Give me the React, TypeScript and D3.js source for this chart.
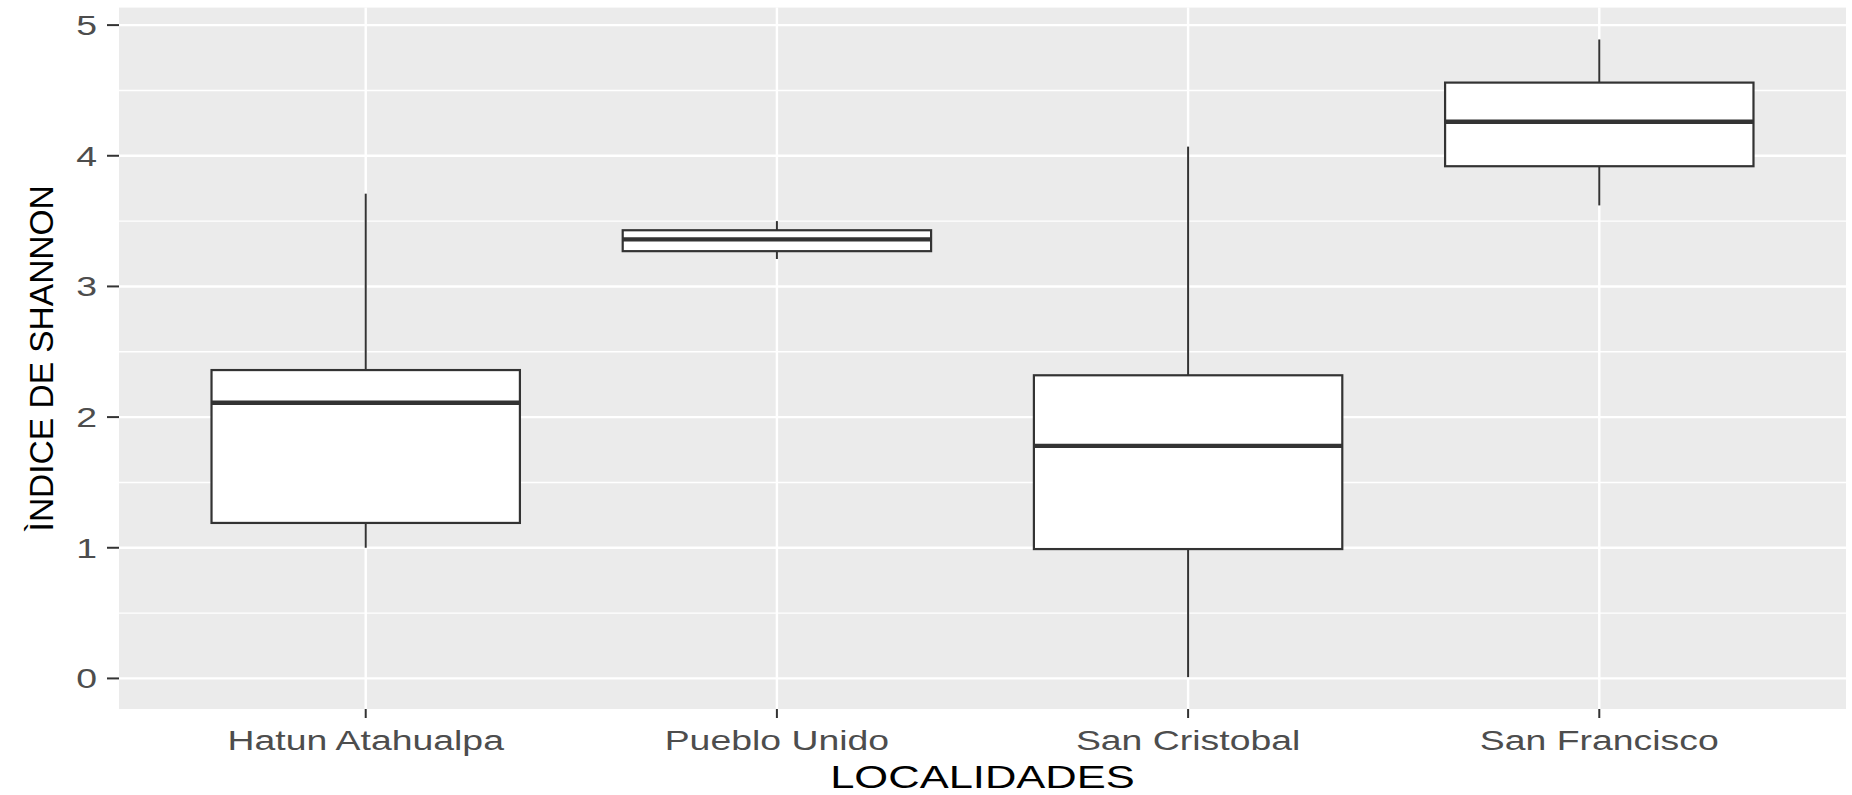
import React from "react";
import * as d3 from "d3";

// Shannon diversity index per locality: box-and-whisker summaries
const localidades = ["Hatun Atahualpa", "Pueblo Unido", "San Cristobal", "San Francisco"];
const whiskerLow = [1.0, 3.21, 0.01, 3.62];
const q1 = [1.19, 3.27, 0.99, 3.92];
const median = [2.11, 3.36, 1.78, 4.26];
const q3 = [2.36, 3.43, 2.32, 4.56];
const whiskerHigh = [3.71, 3.5, 4.07, 4.89];
const yTicks = [0, 1, 2, 3, 4, 5];
const yMinor = [0.5, 1.5, 2.5, 3.5, 4.5];

const W = 1852;
const H = 795;
const panel = { left: 119, right: 1846, top: 7.6, bottom: 709 };
const FONT = "'Liberation Sans', Arial, Helvetica, sans-serif";
const SX = 1.36; // horizontal glyph widening of the horizontal labels

export default function App() {
  const dataMin = d3.min(whiskerLow) as number;
  const dataMax = d3.max(whiskerHigh) as number;
  const pad = (dataMax - dataMin) * 0.05;

  const y = d3
    .scaleLinear()
    .domain([dataMin - pad, dataMax + pad])
    .range([panel.bottom, panel.top]);

  const x = d3
    .scalePoint<string>()
    .domain(localidades)
    .range([panel.left, panel.right])
    .padding(0.6);

  const boxW = x.step() * 0.75;
  const stroke = "#333333";

  return (
    <div style={{ position: "fixed", left: 0, top: 0, width: W, height: H, background: "#fff" }}>
      <svg width={W} height={H} style={{ display: "block" }} fontFamily={FONT}>
        {/* panel background */}
        <rect
          x={panel.left}
          y={panel.top}
          width={panel.right - panel.left}
          height={panel.bottom - panel.top}
          fill="#EBEBEB"
        />
        {/* minor gridlines */}
        {yMinor.map((v) => (
          <line
            key={"mn" + v}
            x1={panel.left}
            x2={panel.right}
            y1={y(v)}
            y2={y(v)}
            stroke="#fff"
            strokeWidth={1.4}
          />
        ))}
        {/* major gridlines */}
        {yTicks.map((v) => (
          <line
            key={"mj" + v}
            x1={panel.left}
            x2={panel.right}
            y1={y(v)}
            y2={y(v)}
            stroke="#fff"
            strokeWidth={2.4}
          />
        ))}
        {localidades.map((c) => (
          <line
            key={"vx" + c}
            x1={x(c)}
            x2={x(c)}
            y1={panel.top}
            y2={panel.bottom}
            stroke="#fff"
            strokeWidth={2.4}
          />
        ))}

        {/* boxes */}
        {localidades.map((c, i) => {
          const cx = x(c) as number;
          return (
            <g key={"box" + c}>
              <line x1={cx} x2={cx} y1={y(whiskerHigh[i])} y2={y(q3[i])} stroke={stroke} strokeWidth={2} />
              <line x1={cx} x2={cx} y1={y(q1[i])} y2={y(whiskerLow[i])} stroke={stroke} strokeWidth={2} />
              <rect
                x={cx - boxW / 2}
                y={y(q3[i])}
                width={boxW}
                height={y(q1[i]) - y(q3[i])}
                fill="#fff"
                stroke={stroke}
                strokeWidth={2.2}
              />
              <line
                x1={cx - boxW / 2}
                x2={cx + boxW / 2}
                y1={y(median[i])}
                y2={y(median[i])}
                stroke={stroke}
                strokeWidth={4.4}
              />
            </g>
          );
        })}

        {/* y axis ticks and labels */}
        {yTicks.map((v) => (
          <g key={"yt" + v}>
            <line x1={panel.left - 12} x2={panel.left} y1={y(v)} y2={y(v)} stroke={stroke} strokeWidth={2} />
            <g transform={`translate(97,${y(v)}) scale(${SX},1)`}>
              <text textAnchor="end" dy="0.36em" fontSize={27.5} fill="#4D4D4D">
                {v}
              </text>
            </g>
          </g>
        ))}

        {/* x axis ticks and labels */}
        {localidades.map((c) => (
          <g key={"xt" + c}>
            <line
              x1={x(c)}
              x2={x(c)}
              y1={panel.bottom}
              y2={panel.bottom + 9}
              stroke={stroke}
              strokeWidth={2}
            />
            <g transform={`translate(${x(c)},750) scale(${SX},1)`}>
              <text textAnchor="middle" fontSize={27.5} fill="#4D4D4D">
                {c}
              </text>
            </g>
          </g>
        ))}

        {/* axis titles */}
        <g transform={`translate(${(panel.left + panel.right) / 2},788) scale(${SX},1)`}>
          <text textAnchor="middle" fontSize={32} fill="#000">
            LOCALIDADES
          </text>
        </g>
        <g transform={`translate(53,${(panel.top + panel.bottom) / 2}) rotate(-90)`}>
          <text textAnchor="middle" fontSize={33.5} fill="#000">
            ÌNDICE DE SHANNON
          </text>
        </g>
      </svg>
    </div>
  );
}
